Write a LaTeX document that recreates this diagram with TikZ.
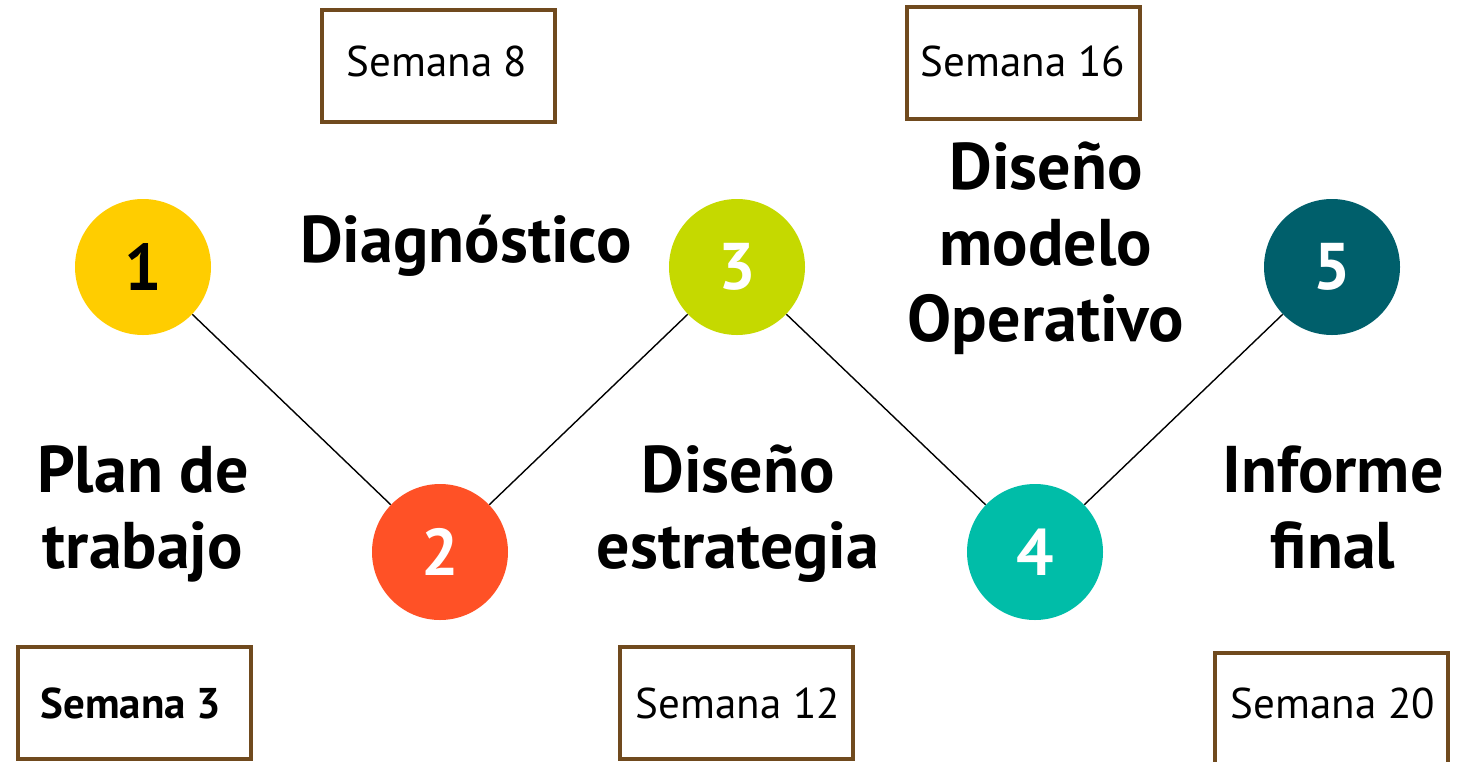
\documentclass[tikz,border=0pt]{standalone}
\usepackage{fontspec}
\setmainfont{PT Sans}
\definecolor{cyellow}{HTML}{FFCD00}
\definecolor{corange}{HTML}{FF5126}
\definecolor{clime}{HTML}{C5D900}
\definecolor{cteal}{HTML}{00BDA8}
\definecolor{cdark}{HTML}{005F6B}
\definecolor{boxbrown}{HTML}{704A1E}
\begin{document}
\begin{tikzpicture}[x=0.5pt,y=-0.5pt,
  circ/.style={circle, minimum size=68pt, inner sep=0pt, text=white,
    font=\fontsize{33}{40}\selectfont\bfseries},
  weekbox/.style={draw=boxbrown, line width=2pt, minimum width=116.5pt,
    minimum height=56pt, inner sep=0pt},
  weektext/.style={inner sep=0pt, font=\fontsize{21.5}{26}\selectfont},
  lbl/.style={align=center, inner sep=0pt, anchor=base,
    font=\fontsize{33}{38}\selectfont\bfseries},
  conn/.style={line width=0.7pt, black}]
\useasboundingbox (0,0) rectangle (1473,761);
% circles
\node[circ, fill=cyellow, text=black] (c1) at (143,267) {1};
\node[circ, fill=corange] (c2) at (440,552) {2};
\node[circ, fill=clime] (c3) at (737,267) {3};
\node[circ, fill=cteal] (c4) at (1035,552) {4};
\node[circ, fill=cdark] (c5) at (1332,267) {5};
% connectors
\draw[conn] (c1) -- (c2);
\draw[conn] (c2) -- (c3);
\draw[conn] (c3) -- (c4);
\draw[conn] (c4) -- (c5);
% labels (anchor = baseline of last line)
\node[lbl] (l2) at (466,262) {Diagnóstico};
\node[lbl] (l4) at (1046,341) {Diseño\\modelo\\Operativo};
\node[lbl] (l1) at (143,568) {Plan de\\trabajo};
\node[lbl] (l3) at (738,568) {Diseño\\estrategia};
\node[lbl] (l5) at (1333,568) {Informe\\final};
% week boxes
\node[weekbox] (b8) at (438.5,65.5) {};
\node[weekbox] (b16) at (1023,63) {};
\node[weekbox] (b3) at (134.5,702.5) {};
\node[weekbox] (b12) at (736.5,703) {};
\node[weekbox] (b20) at (1331,709) {};
\node[weektext] (t8) at (437,61) {Semana 8};
\node[weektext] (t16) at (1023,61) {Semana 16};
\node[weektext, font=\fontsize{21.5}{26}\selectfont\bfseries] (t3) at (131,703) {Semana 3};
\node[weektext] (t12) at (738,703) {Semana 12};
\node[weektext] (t20) at (1333,703) {Semana 20};
\end{tikzpicture}
\end{document}
